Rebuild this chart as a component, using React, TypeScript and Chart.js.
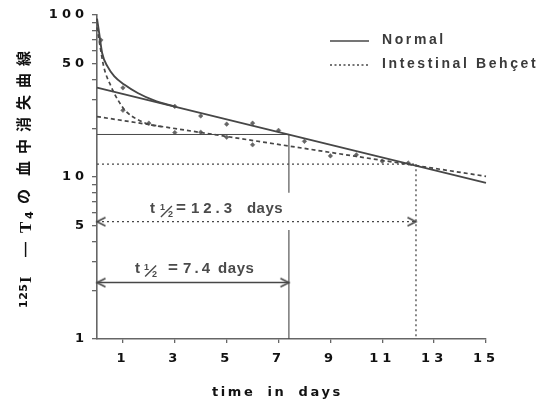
import React, { useEffect, useRef } from 'react';
import { Chart, registerables } from 'chart.js';

Chart.register(...registerables);

// ---------------- data ----------------
const xTickValues = [1, 3, 5, 7, 9, 11, 13, 15];
const yTickValues = [1, 2, 3, 4, 5, 6, 7, 8, 9, 10, 20, 30, 40, 50, 60, 70, 80, 90, 100];
const yLabeledValues = [1, 5, 10, 50, 100];

const normalCurveDays = [0, 0.08, 0.2, 0.41, 0.67, 1.05, 1.57, 2.2, 3.0];
const normalCurveValues = [95, 78, 58, 48, 41.8, 37.2, 33, 29.7, 27.2];
const normalLineDays = [0, 15];
const normalLineValues = [35.6, 9.2];
const normalPointDays = [0.15, 1, 3, 4, 5, 6, 7, 8, 10, 12];
const normalPointValues = [70, 35.5, 27.3, 23.8, 21.2, 21.5, 19.4, 16.6, 13.7, 12.2];

const behcetCurveDays = [0, 0.08, 0.26, 0.54, 0.8, 1.12, 1.57, 2.08, 2.6];
const behcetCurveValues = [84, 70, 48, 36.3, 30, 25.4, 22.6, 21.0, 20.3];
const behcetLineDays = [0, 15];
const behcetLineValues = [23.6, 10.1];
const behcetPointDays = [1, 2, 3, 4, 5, 6, 9, 11];
const behcetPointValues = [25.8, 21.5, 18.8, 18.9, 17.6, 15.8, 13.5, 12.5];

const normalHalfLife = 7.4;
const normalHalfValue = 18.3;
const normalArrowValue = 2.23;
const normalGapValues = [8.0, 4.7];
const behcetHalfLife = 12.3;
const behcetHalfValue = 12.0;
const behcetArrowValue = 5.3;
const axisFloor = 1;

const legendLabels = ['Normal', 'Intestinal Behçet'];
const normalHalfText = '7.4';
const behcetHalfText = '12.3';
const daysText = 'days';
const xTitle = 'time in days';
const yTitleIsotope = '125';
const yTitleCjk1 = 'の';
const yTitleCjk2 = '血中消失曲線';

// ---------------- helpers ----------------
const pts = (xs: number[], ys: (number | null)[]) => xs.map((x, i) => ({ x, y: ys[i] }));

const LINE = '#474747';

function makeChevron(dir: 'left' | 'right', color: string) {
  const c = document.createElement('canvas');
  c.width = 20;
  c.height = 12;
  const g = c.getContext('2d')!;
  g.strokeStyle = color;
  g.lineWidth = 1.6;
  g.lineCap = 'round';
  g.beginPath();
  if (dir === 'left') {
    g.moveTo(18, 2);
    g.lineTo(10, 6);
    g.lineTo(18, 10);
  } else {
    g.moveTo(2, 2);
    g.lineTo(10, 6);
    g.lineTo(2, 10);
  }
  g.stroke();
  return c;
}

function drawHalfLabel(ctx: CanvasRenderingContext2D, x: number, y: number, num: string, o: { frac: number; eq: number; num: number; numLs: number; days: number }) {
  ctx.fillStyle = '#4a4a4a';
  ctx.strokeStyle = '#4a4a4a';
  ctx.textAlign = 'left';
  ctx.textBaseline = 'alphabetic';
  ctx.letterSpacing = '0px';
  ctx.font = 'bold 15px "Liberation Sans"';
  ctx.fillText('t', x, y);
  ctx.font = 'bold 9px "Liberation Sans"';
  ctx.fillText('1', x + o.frac, y - 3);
  ctx.fillText('2', x + o.frac + 8, y + 4);
  ctx.lineWidth = 1.4;
  ctx.beginPath();
  ctx.moveTo(x + o.frac + 1, y + 4);
  ctx.lineTo(x + o.frac + 12, y - 7);
  ctx.stroke();
  ctx.font = 'bold 17px "Liberation Sans"';
  ctx.fillText('=', x + o.eq, y);
  ctx.font = 'bold 15px "Liberation Sans"';
  ctx.letterSpacing = o.numLs + 'px';
  ctx.fillText(num, x + o.num, y);
  ctx.letterSpacing = '0.5px';
  ctx.fillText(daysText, x + o.days, y);
  ctx.letterSpacing = '0px';
}

const annotationPlugin = {
  id: 'annotations',
  beforeDraw(chart: any) {
    const ctx = chart.ctx as CanvasRenderingContext2D;
    ctx.save();
    ctx.fillStyle = '#ffffff';
    ctx.fillRect(0, 0, chart.width, chart.height);
    ctx.restore();
    ctx.letterSpacing = '4px';
  },
  afterDraw(chart: any) {
    const ctx = chart.ctx as CanvasRenderingContext2D;
    const xs = chart.scales.x;
    const ys = chart.scales.y;
    ctx.save();
    ctx.letterSpacing = '0px';

    // legend
    ctx.strokeStyle = LINE;
    ctx.lineWidth = 1.5;
    ctx.setLineDash([]);
    ctx.beginPath();
    ctx.moveTo(330, 41);
    ctx.lineTo(369, 41);
    ctx.stroke();
    ctx.setLineDash([2, 2.5]);
    ctx.beginPath();
    ctx.moveTo(330, 65);
    ctx.lineTo(369, 65);
    ctx.stroke();
    ctx.setLineDash([]);
    ctx.fillStyle = '#3a3a3a';
    ctx.font = 'bold 14px "Liberation Sans"';
    ctx.textAlign = 'left';
    ctx.textBaseline = 'middle';
    ctx.letterSpacing = '2.6px';
    ctx.fillText(legendLabels[0], 382, 40);
    ctx.fillText(legendLabels[1], 382, 64);

    // half-life labels
    drawHalfLabel(ctx, xs.getPixelForValue(2.04), ys.getPixelForValue(6.0), behcetHalfText, { frac: 10, eq: 26, num: 41, numLs: 4, days: 97 });
    drawHalfLabel(ctx, xs.getPixelForValue(1.47), ys.getPixelForValue(2.57), normalHalfText, { frac: 9, eq: 33, num: 48, numLs: 3, days: 83 });

    // x title
    ctx.fillStyle = '#111';
    ctx.font = 'bold 13px "DejaVu Sans"';
    ctx.textAlign = 'left';
    ctx.textBaseline = 'alphabetic';
    ctx.letterSpacing = '2.6px';
    (ctx as any).wordSpacing = '5px';
    ctx.fillText(xTitle, 212, 396);
    (ctx as any).wordSpacing = '0px';

    // y title (rotated)
    ctx.translate(31, 308);
    ctx.rotate(-Math.PI / 2);
    ctx.letterSpacing = '0.5px';
    ctx.font = 'bold 11px "DejaVu Sans"';
    ctx.fillText(yTitleIsotope, 0, -4);
    ctx.letterSpacing = '0px';
    ctx.font = 'bold 17px "Liberation Serif"';
    ctx.fillText('I', 25, 0);
    ctx.font = 'bold 15px "Liberation Sans"';
    ctx.fillText('\u2014', 51, -1);
    ctx.font = 'bold 17px "Liberation Serif"';
    ctx.fillText('T', 75, 0);
    ctx.font = 'bold 11px "DejaVu Sans"';
    ctx.fillText('4', 89, 2);
    ctx.font = 'bold 15px "Noto Sans CJK JP"';
    ctx.fillText(yTitleCjk1, 104, -2);
    ctx.letterSpacing = '7px';
    ctx.fillText(yTitleCjk2, 132, -2);
    ctx.restore();
    ctx.letterSpacing = '0px';
  },
};

export default function App() {
  const ref = useRef<HTMLCanvasElement>(null);
  useEffect(() => {
    const canvas = ref.current!;
    const lChev = makeChevron('left', LINE);
    const rChev = makeChevron('right', LINE);
    const tickFont = { family: '"DejaVu Sans"', size: 13, weight: 'bold' as const };
    const base = { borderColor: LINE, pointRadius: 0, fill: false, clip: false as any };
    const chart = new Chart(canvas, {
      type: 'line',
      data: {
        datasets: [
          { ...base, data: pts(normalCurveDays, normalCurveValues), borderWidth: 1.9, cubicInterpolationMode: 'monotone' },
          { ...base, data: pts(normalLineDays, normalLineValues), borderWidth: 1.8 },
          { ...base, data: pts([0, normalHalfLife], [normalHalfValue, normalHalfValue]), borderWidth: 1 },
          {
            ...base,
            data: pts([normalHalfLife, normalHalfLife, normalHalfLife, normalHalfLife, normalHalfLife], [normalHalfValue, normalGapValues[0], null, normalGapValues[1], axisFloor]),
            borderWidth: 1.1,
            spanGaps: false,
          },
          { ...base, data: pts(behcetCurveDays, behcetCurveValues), borderWidth: 1.7, borderDash: [4, 3], cubicInterpolationMode: 'monotone' },
          { ...base, data: pts(behcetLineDays, behcetLineValues), borderWidth: 1.7, borderDash: [4, 3] },
          { ...base, data: pts([0, behcetHalfLife], [behcetHalfValue, behcetHalfValue]), borderWidth: 1.3, borderDash: [2, 3] },
          { ...base, data: pts([behcetHalfLife, behcetHalfLife], [behcetHalfValue, axisFloor]), borderWidth: 1.3, borderDash: [2, 3] },
          {
            ...base,
            data: pts([0, normalHalfLife], [normalArrowValue, normalArrowValue]),
            borderWidth: 1.5,
            pointRadius: 5,
            pointStyle: [lChev, rChev] as any,
          },
          {
            ...base,
            data: pts([0, behcetHalfLife], [behcetArrowValue, behcetArrowValue]),
            borderWidth: 1.3,
            borderDash: [2, 3],
            pointRadius: 5,
            pointStyle: [lChev, rChev] as any,
          },
          {
            ...base,
            data: pts(normalPointDays, normalPointValues),
            showLine: false,
            pointRadius: 2.3,
            pointStyle: 'rectRot',
            pointBackgroundColor: '#666',
            pointBorderColor: '#666',
            pointBorderWidth: 0.5,
          },
          {
            ...base,
            data: pts(behcetPointDays, behcetPointValues),
            showLine: false,
            pointRadius: 2.3,
            pointStyle: 'rectRot',
            pointBackgroundColor: '#666',
            pointBorderColor: '#666',
            pointBorderWidth: 0.5,
          },
        ] as any,
      },
      options: {
        animation: false,
        responsive: false,
        devicePixelRatio: 1,
        events: [],
        layout: { padding: { top: 15, right: 64, left: 0, bottom: 0 } },
        plugins: { legend: { display: false }, tooltip: { enabled: false } },
        scales: {
          x: {
            type: 'linear',
            min: 0,
            max: 15,
            afterBuildTicks: (s: any) => {
              s.ticks = xTickValues.map((v) => ({ value: v }));
            },
            afterFit: (s: any) => {
              s.height = 63;
            },
            ticks: { color: '#111', font: tickFont, padding: 8, maxRotation: 0, autoSkip: false },
            grid: { drawOnChartArea: false, drawTicks: true, tickLength: 4, color: '#666', lineWidth: 1.3 },
            border: { color: '#666', width: 1.6 },
          },
          y: {
            type: 'logarithmic',
            min: 1,
            max: 100,
            afterBuildTicks: (s: any) => {
              s.ticks = yTickValues.map((v) => ({ value: v }));
            },
            afterFit: (s: any) => {
              s.width = 97;
            },
            ticks: {
              color: '#111',
              font: tickFont,
              padding: 4,
              autoSkip: false,
              callback: (v: any) => (yLabeledValues.includes(Number(v)) ? String(v) : ''),
            },
            grid: { drawOnChartArea: false, drawTicks: true, tickLength: 5, color: '#666', lineWidth: 1.3 },
            border: { color: '#666', width: 1.6 },
          },
        },
      } as any,
      plugins: [annotationPlugin],
    });
    return () => chart.destroy();
  }, []);
  return (
    <div style={{ position: 'absolute', left: 0, top: 0, width: 550, height: 402, background: '#fff' }}>
      <canvas ref={ref} width={550} height={402} style={{ display: 'block', width: 550, height: 402 }} />
    </div>
  );
}
